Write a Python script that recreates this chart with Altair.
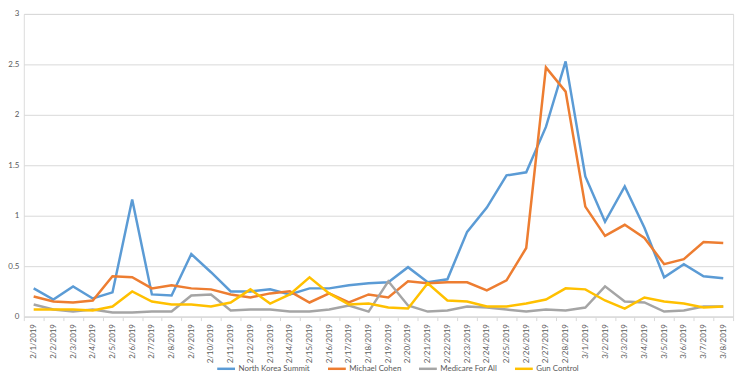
import altair as alt
import pandas as pd

dates = ["2/1/2019","2/2/2019","2/3/2019","2/4/2019","2/5/2019","2/6/2019","2/7/2019","2/8/2019",
         "2/9/2019","2/10/2019","2/11/2019","2/12/2019","2/13/2019","2/14/2019","2/15/2019","2/16/2019",
         "2/17/2019","2/18/2019","2/19/2019","2/20/2019","2/21/2019","2/22/2019","2/23/2019","2/24/2019",
         "2/25/2019","2/26/2019","2/27/2019","2/28/2019","3/1/2019","3/2/2019","3/3/2019","3/4/2019",
         "3/5/2019","3/6/2019","3/7/2019","3/8/2019"]

north_korea = [0.28,0.17,0.30,0.18,0.24,1.16,0.22,0.21,0.62,0.44,0.25,0.25,0.27,0.22,0.28,0.28,
               0.31,0.33,0.34,0.49,0.34,0.37,0.84,1.08,1.40,1.43,1.88,2.53,1.39,0.94,1.29,0.88,
               0.39,0.52,0.40,0.38]
michael_cohen = [0.20,0.15,0.14,0.16,0.40,0.39,0.28,0.31,0.28,0.27,0.22,0.19,0.23,0.25,0.14,0.23,
                 0.14,0.22,0.19,0.35,0.33,0.34,0.34,0.26,0.36,0.68,2.47,2.23,1.09,0.80,0.91,0.78,
                 0.52,0.57,0.74,0.73]
medicare = [0.12,0.07,0.05,0.07,0.04,0.04,0.05,0.05,0.21,0.22,0.06,0.07,0.07,0.05,0.05,0.07,
            0.11,0.05,0.35,0.11,0.05,0.06,0.10,0.09,0.07,0.05,0.07,0.06,0.09,0.30,0.15,0.14,
            0.05,0.06,0.10,0.10]
gun_control = [0.07,0.07,0.07,0.06,0.10,0.25,0.15,0.12,0.12,0.10,0.14,0.27,0.13,0.22,0.39,0.23,
               0.12,0.13,0.09,0.08,0.33,0.16,0.15,0.10,0.10,0.13,0.17,0.28,0.27,0.16,0.08,0.19,
               0.15,0.13,0.09,0.10]

series_names = ["North Korea Summit", "Michael Cohen", "Medicare For All", "Gun Control"]
series_colors = ["#5B9BD5", "#ED7D31", "#A5A5A5", "#FFC000"]
y_ticks = [0, 0.5, 1, 1.5, 2, 2.5, 3]

rows = []
for name, vals in zip(series_names, [north_korea, michael_cohen, medicare, gun_control]):
    for d, v in zip(dates, vals):
        rows.append({"date": d, "value": v, "series": name})
df = pd.DataFrame(rows)

font = "Lato"
chart = alt.Chart(df).mark_line(strokeWidth=2.5).encode(
    x=alt.X("date:O", sort=dates, bandPosition=0.5,
            scale=alt.Scale(type="band", paddingInner=0, paddingOuter=0),
            axis=alt.Axis(title=None, labelAngle=-90, labelFontSize=8, labelColor="#595959",
                          labelFont=font, domainColor="#D9D9D9", tickColor="#D9D9D9",
                          tickBand="extent", tickSize=4, labelPadding=3, grid=False)),
    y=alt.Y("value:Q", scale=alt.Scale(domain=[0, 3], nice=False),
            axis=alt.Axis(title=None, values=y_ticks, format="~g", labelFontSize=8,
                          labelColor="#595959", labelFont=font, domain=False, ticks=False,
                          labelPadding=5, gridColor="#D9D9D9", gridWidth=1)),
    color=alt.Color("series:N", sort=series_names,
                    scale=alt.Scale(domain=series_names, range=series_colors),
                    legend=alt.Legend(title=None, orient="none", direction="horizontal",
                                      legendX=194, legendY=348, symbolType="stroke",
                                      symbolSize=324, symbolStrokeWidth=2.5,
                                      labelFontSize=8, labelColor="#595959", labelFont=font,
                                      columnPadding=12, labelOffset=2)),
    order=alt.Order("series:N"),
).properties(
    width=717, height=306,
    autosize=alt.AutoSizeParams(type="none"),
    padding={"left": 16, "top": 4, "right": 9, "bottom": 54},
).configure_view(stroke=None).configure(background="white")

chart.save("out.html", embed_options={"renderer": "svg", "actions": False})
